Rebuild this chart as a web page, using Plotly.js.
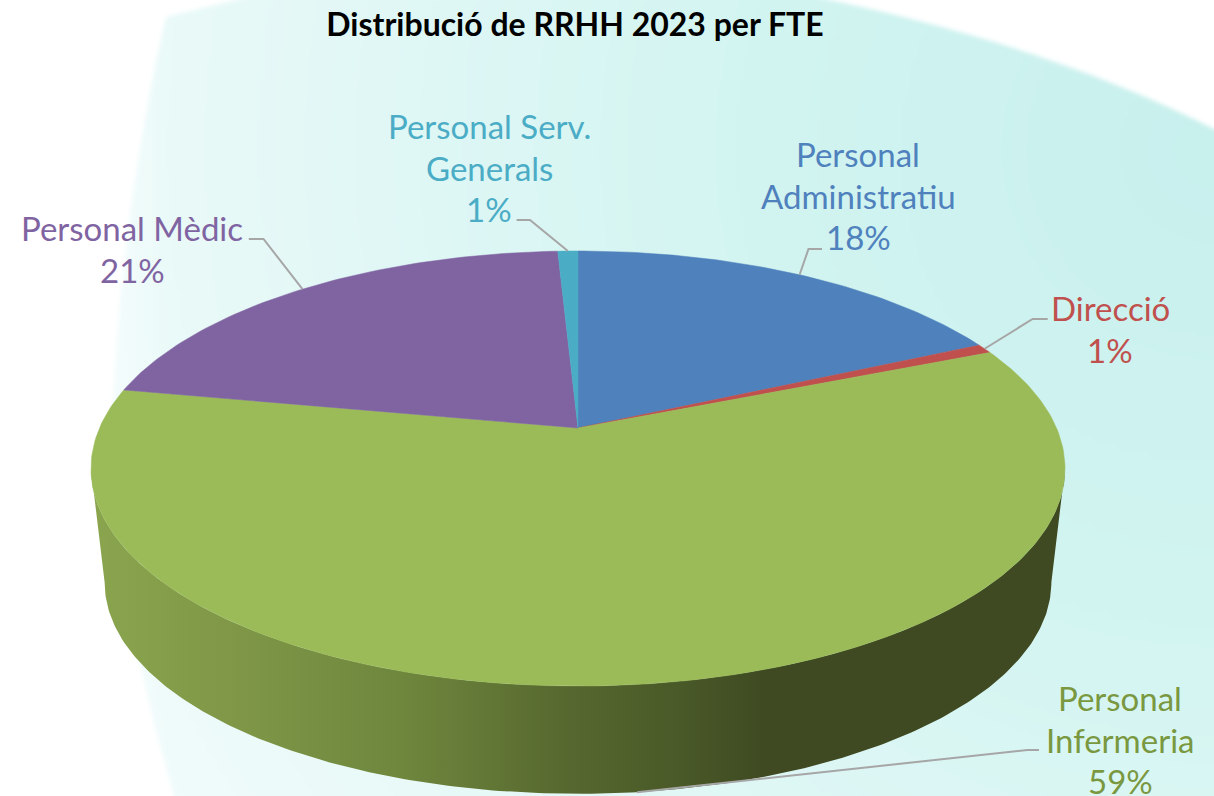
<!DOCTYPE html>
<html><head><meta charset="utf-8">
<script src="https://cdn.plot.ly/plotly-3.0.1.min.js"></script>
<style>html,body{margin:0;padding:0;background:#fff;overflow:hidden}#chart{width:1214px;height:796px}</style>
</head><body><div id="chart"></div>
<script>
// ---- data (share of FTE) ----
const categories = ["Personal Administratiu","Direcció","Personal Infermeria","Personal Mèdic","Personal Serv. Generals"];
const fteShare = [18.0, 0.7, 59.3, 21.2, 0.8];
const labelLines = [["Personal","Administratiu"],["Direcció"],["Personal","Infermeria"],["Personal Mèdic"],["Personal Serv.","Generals"]];
const sliceColors = ["#4F81BD","#C0504D","#9BBB59","#8064A2","#4BACC6"];
const textColors = ["#4F81BD","#C0504D","#7A983F","#8064A2","#4BACC6"];
const chartTitle = "Distribució de RRHH 2023 per FTE";

// ---- layout: projection of the tilted disc ----
const geo = {cx:578, cy:428, A:210, B:478.5, k:0.1862, wallScale:0.972, wallDrop:115};
const labelPos = [{x:858,y:154},{x:1110,y:308},{x:1120,y:698},{x:132,y:228},{x:489,y:126}];
const lineGap = 41.5, labelSize = 33, titleSize = 32;
const elbows = [[[808.5,249],[822,249]],[[1032.6,319],[1047.7,319]],[[1027.5,750],[1039,750]],[[263.5,239],[248.8,239]],[[530,220],[516.6,220]]];

function project(theta, wall){
  const u=Math.sin(theta), v=Math.cos(theta), d=1+geo.k*v;
  const s = wall?geo.wallScale:1, drop = wall?geo.wallDrop:0;
  return [geo.cx+s*geo.B*u/d, geo.cy-s*geo.A*v/d+drop];
}
const total = fteShare.reduce((a,b)=>a+b,0);
const traces = [];

// side wall, from one silhouette point to the other, with shading across it
(function(){
  const a0=Math.acos(-geo.k), a1=2*Math.PI-a0, n=240, xs=[], ys=[];
  for(let i=0;i<=n;i++){const p=project(a0+(a1-a0)*i/n,false);xs.push(p[0]);ys.push(p[1]);}
  for(let i=n;i>=0;i--){const p=project(a0+(a1-a0)*i/n,true);xs.push(p[0]);ys.push(p[1]);}
  traces.push({type:"scatter",mode:"lines",x:xs,y:ys,fill:"toself",line:{width:0,color:"rgba(0,0,0,0)"},
    fillgradient:{type:"horizontal",colorscale:[[0,"#8AA54E"],[0.145,"#7F9747"],[0.317,"#6F873D"],[0.5,"#55662E"],[0.6,"#4A5A28"],[0.69,"#3F4A22"],[1,"#3F4A22"]]},
    hoverinfo:"skip",showlegend:false});
})();

// top face slices
let acc=0; const mids=[];
fteShare.forEach((val,i)=>{
  const t0=acc/total*2*Math.PI; acc+=val; const t1=acc/total*2*Math.PI;
  mids.push((t0+t1)/2);
  const n=Math.max(4,Math.ceil(val*4)), xs=[geo.cx], ys=[geo.cy];
  for(let j=0;j<=n;j++){const p=project(t0+(t1-t0)*j/n,false);xs.push(p[0]);ys.push(p[1]);}
  xs.push(geo.cx);ys.push(geo.cy);
  traces.push({type:"scatter",mode:"lines",name:categories[i],x:xs,y:ys,fill:"toself",fillcolor:sliceColors[i],
    line:{width:0.5,color:sliceColors[i]},hoverinfo:"skip",showlegend:false});
});

// leader lines
mids.forEach((m,i)=>{
  const isFront = Math.cos(m)<0;
  const p=project(m,isFront);
  traces.push({type:"scatter",mode:"lines",x:[p[0],elbows[i][0][0],elbows[i][1][0]],y:[p[1],elbows[i][0][1],elbows[i][1][1]],
    line:{color:"#A6A6A6",width:2},hoverinfo:"skip",showlegend:false,cliponaxis:false});
});

// labels
const annotations=[];
labelLines.forEach((lines,i)=>{
  const pct=Math.round(fteShare[i]/total*100)+"%";
  lines.concat([pct]).forEach((txt,j)=>{
    annotations.push({xref:"x",yref:"y",x:labelPos[i].x,y:labelPos[i].y+j*lineGap,text:txt,showarrow:false,
      xanchor:"center",yanchor:"middle",font:{family:"Lato, Carlito, sans-serif",size:labelSize,color:textColors[i]}});
  });
});

// soft backdrop panel
const edge="M166,17 L252,-4 L812,-4 C950,25 1090,65 1220,132 L1220,800 L175,800 L156,730 L139,659 L122,570 L114,480 L113,400 L120,300 L132,200 L145,120 L155,67 Z";
const svg=`<svg xmlns="http://www.w3.org/2000/svg" width="1214" height="796" viewBox="0 0 1214 796"><defs>
<radialGradient id="g" gradientUnits="userSpaceOnUse" cx="1214" cy="150" r="1250"><stop offset="0" stop-color="#C8F0ED"/><stop offset="0.35" stop-color="#D1F4F1"/><stop offset="0.7" stop-color="#E2F8F6"/><stop offset="1" stop-color="#F1FBFB"/></radialGradient>
<linearGradient id="f" gradientUnits="userSpaceOnUse" x1="105" y1="0" x2="170" y2="0"><stop offset="0" stop-color="#fff" stop-opacity="1"/><stop offset="1" stop-color="#fff" stop-opacity="0"/></linearGradient>
<filter id="b" x="-5%" y="-5%" width="110%" height="110%"><feGaussianBlur stdDeviation="2"/></filter></defs>
<path d="${edge}" fill="url(#g)" filter="url(#b)"/><rect x="0" y="0" width="170" height="796" fill="url(#f)" opacity="0.45"/></svg>`;

const layout={
  width:1214,height:796,margin:{l:0,r:0,t:0,b:0},paper_bgcolor:"#fff",plot_bgcolor:"rgba(0,0,0,0)",showlegend:false,
  title:{text:"<b>"+chartTitle+"</b>",x:575/1214,xanchor:"center",y:1-25/796,yanchor:"middle",font:{family:"Lato, Carlito, sans-serif",size:titleSize,color:"#000"}},
  xaxis:{range:[0,1214],visible:false,fixedrange:true},
  yaxis:{range:[796,0],visible:false,fixedrange:true},
  annotations,
  images:[{source:"data:image/svg+xml;charset=utf-8,"+encodeURIComponent(svg),xref:"paper",yref:"paper",x:0,y:1,sizex:1,sizey:1,sizing:"stretch",xanchor:"left",yanchor:"top",layer:"below"}]
};
Plotly.newPlot("chart",traces,layout,{displayModeBar:false,responsive:false});
</script></body></html>
